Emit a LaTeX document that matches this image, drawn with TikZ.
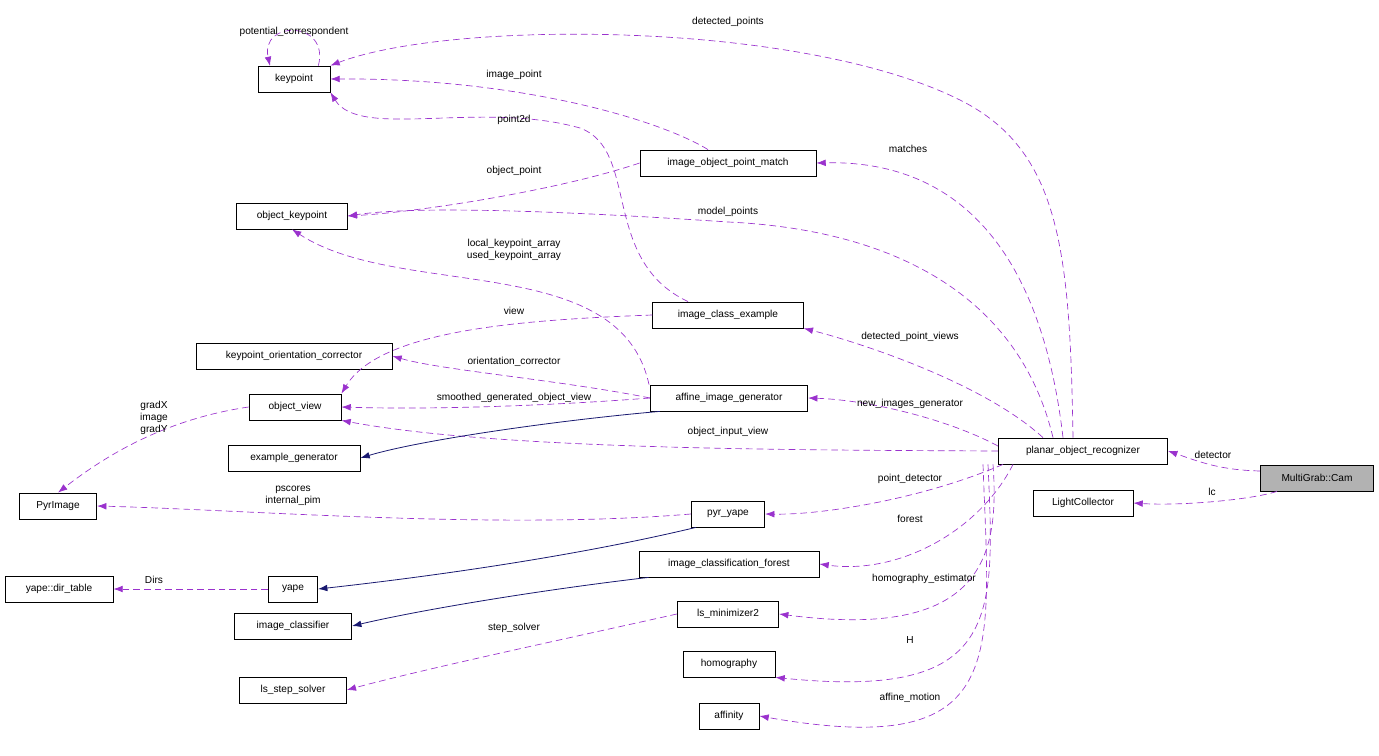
\documentclass[tikz,border=0pt]{standalone}
\usepackage{fontspec}
\setmainfont{Liberation Sans}
\usetikzlibrary{arrows.meta}
\definecolor{dep}{HTML}{9A32CD}
\definecolor{inh}{HTML}{191970}
\begin{document}
\begin{tikzpicture}[x=0.75pt,y=-0.75pt,
  cls/.style={draw=black,fill=white,inner sep=0pt,minimum height=19.5pt,font=\fontsize{7.6}{9}\selectfont,line width=0.6pt},
  lbl/.style={font=\fontsize{7.6}{9}\selectfont,inner sep=0pt,align=center},
  use/.style={draw=dep,dashed,dash pattern=on 5pt off 3pt,line width=0.5pt,-{Latex[length=7pt,width=5pt]}},
  isa/.style={draw=inh,line width=0.6pt,-{Latex[length=7pt,width=5pt]}}]
\useasboundingbox (0,0) rectangle (1379,756);
\node[cls,minimum width=54pt] (kp) at (294,79) {keypoint};
\node[cls,minimum width=132pt] (iopm) at (728,163) {image\_object\_point\_match};
\node[cls,minimum width=83pt] (ok) at (292,216) {object\_keypoint};
\node[cls,minimum width=113pt] (ice) at (728,315) {image\_class\_example};
\node[cls,minimum width=147pt] (koc) at (294,356) {keypoint\_orientation\_corrector};
\node[cls,minimum width=69pt] (ov) at (295,407) {object\_view};
\node[cls,minimum width=118pt] (aig) at (729,398) {affine\_image\_generator};
\node[cls,minimum width=99pt] (eg) at (294,458) {example\_generator};
\node[cls,minimum width=127pt] (por) at (1083,451) {planar\_object\_recognizer};
\node[cls,minimum width=85pt,fill=black!30] (cam) at (1317,478) {MultiGrab::Cam};
\node[cls,minimum width=75pt] (lc) at (1083,503) {LightCollector};
\node[cls,minimum width=58pt] (pyr) at (58,506) {PyrImage};
\node[cls,minimum width=55pt] (py) at (728,514) {pyr\_yape};
\node[cls,minimum width=81pt] (dt) at (59,589) {yape::dir\_table};
\node[cls,minimum width=37pt] (ya) at (293,589) {yape};
\node[cls,minimum width=135pt] (icf) at (729,564) {image\_classification\_forest};
\node[cls,minimum width=88pt] (ic) at (293,626) {image\_classifier};
\node[cls,minimum width=76pt] (ls2) at (728,614) {ls\_minimizer2};
\node[cls,minimum width=80pt] (lss) at (293,690) {ls\_step\_solver};
\node[cls,minimum width=69pt] (hom) at (729,664) {homography};
\node[cls,minimum width=45pt] (aff) at (729,716) {affinity};

% dependencies
\draw[use] (kp.north east) ++(-12,0) coordinate (s0) .. controls (330,20) and (260,20) .. (270,66);
\node[lbl] (l1) at (294,32) {potential\_correspondent};
\draw[use] (por.north) ++(-10,0) .. controls (1070,250) and (1060,150) .. (960,100) .. controls (800,20) and (450,20) .. (kp.north east);
\node[lbl] (l2) at (728,22) {detected\_points};
\draw[use] (iopm.north) ++(-20,0) .. controls (660,120) and (520,78) .. (kp.east);
\node[lbl] (l3) at (514,75) {image\_point};
\draw[use] (ice.north) ++(-40,0) .. controls (600,260) and (640,150) .. (580,128) .. controls (480,100) and (360,140) .. (kp.south east);
\node[lbl] (l4) at (514,120) {point2d};
\draw[use] (iopm.west) .. controls (560,190) and (420,212) .. (ok.east);
\node[lbl] (l5) at (514,171) {object\_point};
\draw[use] (por.north) ++(-30,0) .. controls (1020,300) and (900,230) .. (728,222) .. controls (580,212) and (420,205) .. (ok.east);
\node[lbl] (l6) at (728,212) {model\_points};
\draw[use] (aig.north) ++(-80,0) .. controls (620,250) and (400,300) .. (ok.south);
\node[lbl] (l7) at (514,250) {local\_keypoint\_array\\used\_keypoint\_array};
\draw[use] (ice.west) .. controls (520,320) and (380,330) .. (ov.north east);
\node[lbl] (l8) at (514,311) {view};
\draw[use] (aig.west) .. controls (560,380) and (440,370) .. (koc.east);
\node[lbl] (l9) at (514,362) {orientation\_corrector};
\draw[use] (aig.west) .. controls (560,405) and (440,410) .. (ov.east);
\node[lbl] (l10) at (514,398) {smoothed\_generated\_object\_view};
\draw[use] (por.west) .. controls (800,450) and (500,450) .. (ov.south east);
\node[lbl] (l11) at (728,432) {object\_input\_view};
\draw[use] (ov.west) .. controls (160,420) and (100,460) .. (pyr.north);
\node[lbl] (l12) at (154,418) {gradX\\image\\gradY};
\draw[use] (py.west) .. controls (500,530) and (250,510) .. (pyr.east);
\node[lbl] (l13) at (293,496) {pscores\\internal\_pim};
\draw[use] (ya.west) -- (dt.east);
\node[lbl] (l14) at (154,580) {Dirs};
\draw[use] (ls2.west) .. controls (560,640) and (420,670) .. (lss.east);
\node[lbl] (l15) at (514,628) {step\_solver};
\draw[use] (por.north) ++(-20,0) .. controls (1040,240) and (950,160) .. (iopm.east);
\node[lbl] (l16) at (908,149) {matches};
\draw[use] (por.north) ++(-40,0) .. controls (980,380) and (850,340) .. (ice.south east);
\node[lbl] (l17) at (910,337) {detected\_point\_views};
\draw[use] (por.west) ++(0,-5) .. controls (950,420) and (870,400) .. (aig.east);
\node[lbl] (l18) at (910,404) {new\_images\_generator};
\draw[use] (por.south) ++(-80,0) .. controls (920,500) and (820,515) .. (py.east);
\node[lbl] (l19) at (910,479) {point\_detector};
\draw[use] (por.south) ++(-70,0) .. controls (980,530) and (900,575) .. (icf.east);
\node[lbl] (l20) at (910,519) {forest};
\draw[use] (por.south) ++(-90,0) .. controls (1000,560) and (980,640) .. (ls2.east);
\node[lbl] (l21) at (924,579) {homography\_estimator};
\draw[use] (por.south) ++(-95,0) .. controls (995,620) and (1000,700) .. (hom.south east);
\node[lbl] (l22) at (910,640) {H};
\draw[use] (por.south) ++(-100,0) .. controls (990,660) and (1010,760) .. (aff.east);
\node[lbl] (l23) at (910,698) {affine\_motion};
\draw[use] (cam.west) ++(0,-7) .. controls (1220,470) and (1200,462) .. (por.east);
\node[lbl] (l24) at (1213,455) {detector};
\draw[use] (cam.south) ++(-40,0) .. controls (1250,500) and (1180,506) .. (lc.east);
\node[lbl] (l25) at (1212,492) {lc};

% inheritance
\draw[isa] (aig.south west) ++(10,0) .. controls (560,420) and (420,440) .. (eg.east);
\draw[isa] (py.south west) ++(5,0) .. controls (560,560) and (400,580) .. (ya.east);
\draw[isa] (icf.south west) ++(10,0) .. controls (540,590) and (420,610) .. (ic.east);
\end{tikzpicture}
\end{document}
